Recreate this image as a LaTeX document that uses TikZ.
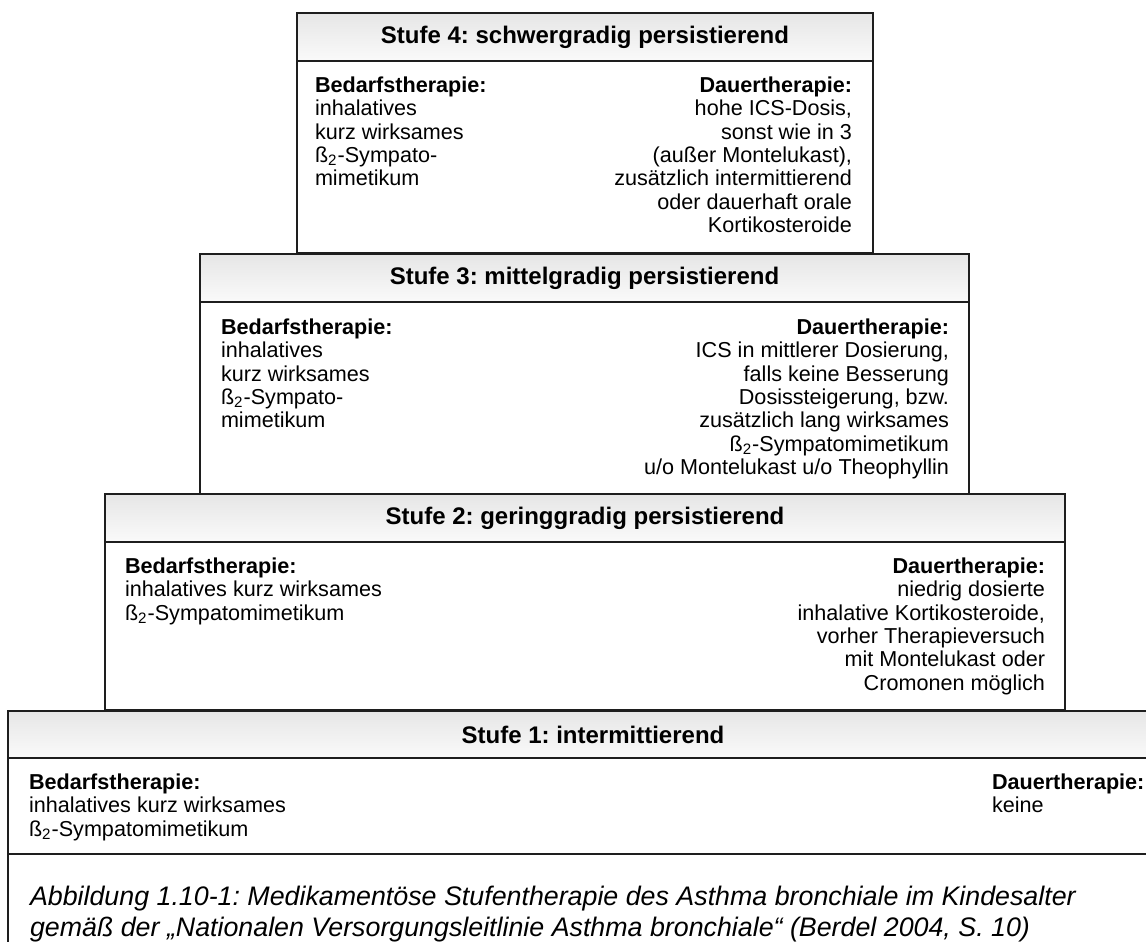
\documentclass[tikz,border=0pt]{standalone}
\usepackage{fontspec}
\setmainfont{Liberation Sans}
\usetikzlibrary{positioning, calc}
\definecolor{cFrame}{RGB}{30,30,30}
\definecolor{cHeadTop}{RGB}{230,230,230}
\definecolor{cHeadBot}{RGB}{250,250,250}
\tikzset{
	stufehead/.style={rectangle, draw=cFrame, line width=1pt, top color=cHeadTop, bottom color=cHeadBot, minimum height=24pt, inner sep=0pt, outer sep=0pt, font=\fontsize{12}{14}\selectfont\bfseries},
	stufebody/.style={rectangle, draw=cFrame, line width=1pt, fill=white, inner sep=0pt, outer sep=0pt},
	lefttext/.style ={align=left, inner sep=0pt, outer sep=0pt},
	righttext/.style={align=right, inner sep=0pt, outer sep=0pt},
	% caption cell below the steps
	captext/.style  ={align=left, inner sep=0pt, outer sep=0pt, font=\fontsize{13.4}{15.6}\selectfont\itshape},
}
\newcommand{\betazwei}{ß\textsubscript{2}}
\frenchspacing

\begin{document}
\begin{tikzpicture}[x=0.5pt, y=-0.5pt, font=\fontsize{10.8}{11.65}\selectfont, node distance=0pt]
	\clip (0,0) rectangle (1146,942);
	% Stufe 4
	\node[stufehead, anchor=north west, minimum width=288pt] (h4) at (297,13) {Stufe 4: schwergradig persistierend};
	\node[stufebody, below=of h4, minimum width=288pt, minimum height=96pt] (b4) {};
	\node[lefttext, below right=8pt and 9pt of b4.north west] (l4) {\textbf{Bedarfstherapie:}\\ inhalatives\\ kurz wirksames\\ \betazwei-Sympato-\\ mimetikum};
	\node[righttext, below left=8pt and 10.5pt of b4.north east] (r4) {\textbf{Dauertherapie:}\\ hohe ICS-Dosis,\\ sonst wie in 3\\ (außer Montelukast),\\ zusätzlich intermittierend\\ oder dauerhaft orale\\ Kortikosteroide};
	% Stufe 3
	\node[stufehead, anchor=north west, minimum width=384.5pt] (h3) at (200,254) {Stufe 3: mittelgradig persistierend};
	\node[stufebody, below=of h3, minimum width=384.5pt, minimum height=96pt] (b3) {};
	\node[lefttext, below right=8.5pt and 10.5pt of b3.north west] (l3) {\textbf{Bedarfstherapie:}\\ inhalatives\\ kurz wirksames\\ \betazwei-Sympato-\\ mimetikum};
	\node[righttext, below left=8.5pt and 10pt of b3.north east] (r3) {\textbf{Dauertherapie:}\\ ICS in mittlerer Dosierung,\\ falls keine Besserung\\ Dosissteigerung, bzw.\\ zusätzlich lang wirksames\\ \betazwei-Sympatomimetikum\\ u/o Montelukast u/o Theophyllin};
	% Stufe 2
	\node[stufehead, anchor=north west, minimum width=480pt] (h2) at (105,494) {Stufe 2: geringgradig persistierend};
	\node[stufebody, below=of h2, minimum width=480pt, minimum height=84pt] (b2) {};
	\node[lefttext, below right=8pt and 10pt of b2.north west] (l2) {\textbf{Bedarfstherapie:}\\ inhalatives kurz wirksames\\ \betazwei-Sympatomimetikum};
	\node[righttext, below left=8pt and 10pt of b2.north east] (r2) {\textbf{Dauertherapie:}\\ niedrig dosierte\\ inhalative Kortikosteroide,\\ vorher Therapieversuch\\ mit Montelukast oder\\ Cromonen möglich};
	% Stufe 1
	\node[stufehead, anchor=north west, minimum width=585pt, minimum height=23.5pt] (h1) at (8,711) {Stufe 1: intermittierend};
	\node[stufebody, below=of h1, minimum width=585pt, minimum height=48pt] (b1) {};
	\node[lefttext, below right=8pt and 10.5pt of b1.north west] (l1) {\textbf{Bedarfstherapie:}\\ inhalatives kurz wirksames\\ \betazwei-Sympatomimetikum};
	\node[lefttext, below right=8pt and 492pt of b1.north west] (r1) {\textbf{Dauertherapie:}\\ keine};
	% caption
	\node[stufebody, below=of b1, minimum width=585pt, minimum height=60pt] (cap) {};
	\node[captext, below right=16pt and 11pt of cap.north west] (captxt) {Abbildung 1.10-1: Medikamentöse Stufentherapie des Asthma bronchiale im Kindesalter\\ gemäß der „Nationalen Versorgungsleitlinie Asthma bronchiale“ (Berdel 2004, S. 10)};
\end{tikzpicture}
\end{document}
